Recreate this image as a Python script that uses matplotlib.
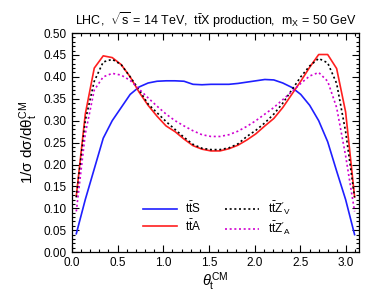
import numpy as np
import matplotlib
matplotlib.use('Agg')
import matplotlib.pyplot as plt
from matplotlib.ticker import MultipleLocator

plt.rcParams['font.family'] = 'Liberation Sans'
plt.rcParams['mathtext.fontset'] = 'custom'
plt.rcParams['mathtext.rm'] = 'Liberation Sans'
plt.rcParams['mathtext.it'] = 'Liberation Sans:italic'
plt.rcParams['font.size'] = 8.5

# bin centres of theta_t^CM (32 bins over 0..pi)
nbins = 32
theta = (np.arange(nbins) + 0.5) * np.pi / nbins

tts = [0.042, 0.12, 0.19, 0.26, 0.30, 0.33, 0.36, 0.377, 0.386, 0.39, 0.391, 0.391,
       0.390, 0.383, 0.382, 0.383, 0.383, 0.383, 0.385, 0.388, 0.391, 0.394, 0.393, 0.386,
       0.376, 0.36, 0.335, 0.30, 0.252, 0.185, 0.12, 0.04]
tta = [0.128, 0.315, 0.42, 0.448, 0.444, 0.428, 0.40, 0.365, 0.335, 0.31, 0.288, 0.275,
       0.258, 0.243, 0.235, 0.231, 0.231, 0.236, 0.244, 0.256, 0.270, 0.288, 0.305, 0.33,
       0.36, 0.39, 0.422, 0.451, 0.451, 0.419, 0.32, 0.126]
ttzv = [0.125, 0.30, 0.39, 0.434, 0.440, 0.428, 0.40, 0.37, 0.338, 0.318, 0.298, 0.28,
        0.262, 0.246, 0.237, 0.234, 0.234, 0.238, 0.247, 0.264, 0.278, 0.295, 0.315, 0.34,
        0.37, 0.40, 0.425, 0.442, 0.432, 0.385, 0.275, 0.125]
ttza = [0.093, 0.27, 0.37, 0.40, 0.408, 0.404, 0.392, 0.372, 0.352, 0.333, 0.315, 0.30,
        0.288, 0.277, 0.268, 0.264, 0.264, 0.268, 0.276, 0.287, 0.30, 0.315, 0.33, 0.348,
        0.366, 0.385, 0.402, 0.41, 0.39, 0.33, 0.22, 0.093]

fig = plt.figure(figsize=(3.82, 3.06), dpi=100)
ax = fig.add_axes([0.188, 0.176, 0.752, 0.716])

ax.plot(theta, tts, color='#1f1fff', lw=1.2, label=r'$\mathrm{t\bar{t}S}$')
ax.plot(theta, tta, color='#ff1f1f', lw=1.2, label=r'$\mathrm{t\bar{t}A}$')
ax.plot(theta, ttzv, color='black', lw=1.2, ls=(0, (1.2, 1.6)), label=r"$\mathrm{t\bar{t}Z}'_\mathrm{V}$")
ax.plot(theta, ttza, color='#d000d0', lw=1.2, ls=(0, (1.2, 1.6)), label=r"$\mathrm{t\bar{t}Z}'_\mathrm{A}$")

ax.set_xlim(0, np.pi)
ax.set_ylim(0, 0.5)
ax.xaxis.set_major_locator(MultipleLocator(0.5))
ax.xaxis.set_minor_locator(MultipleLocator(0.1))
ax.yaxis.set_major_locator(MultipleLocator(0.05))
ax.yaxis.set_minor_locator(MultipleLocator(0.01))
ax.xaxis.set_major_formatter(plt.FormatStrFormatter('%.1f'))
ax.yaxis.set_major_formatter(plt.FormatStrFormatter('%.2f'))
ax.tick_params(which='both', direction='in', top=True, right=True, width=0.8)
ax.tick_params(which='major', length=5)
ax.tick_params(which='minor', length=2.5)
for s in ax.spines.values():
    s.set_linewidth(0.9)

ax.set_xlabel(r'$\theta_\mathrm{t}^\mathrm{CM}$', fontsize=10.5, labelpad=1)
ax.set_ylabel(r'$\mathrm{1/\sigma\ d\sigma/d\theta_t^{CM}}$', fontsize=11, labelpad=3)
ax.set_title(r'LHC,  $\sqrt{\mathrm{s}}$ = 14 TeV,  $\mathrm{t\bar{t}X}$ production,  $\mathrm{m_X}$ = 50 GeV',
             fontsize=9, pad=6)

ax.legend(ncol=2, frameon=False, loc='center', bbox_to_anchor=(0.505, 0.155),
          handlelength=2.9, columnspacing=2.0, labelspacing=0.2, handletextpad=0.7)

fig.savefig('out.png', dpi=100)
